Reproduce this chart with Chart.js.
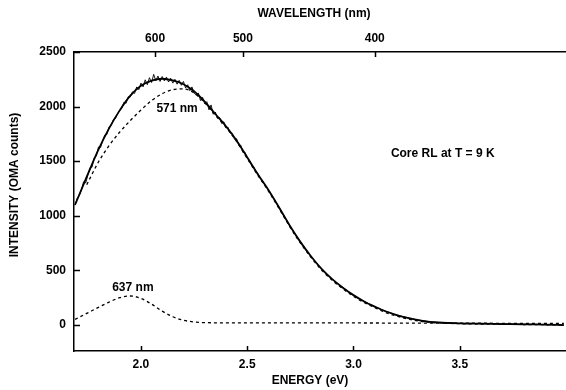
<!DOCTYPE html>
<html>
<head>
<meta charset="utf-8">
<script src="https://cdn.jsdelivr.net/npm/chart.js@4.4.1/dist/chart.umd.min.js"></script>
<style>
  html, body { margin: 0; padding: 0; background: #fff; }
  #wrap { width: 566px; height: 390px; position: relative; }
</style>
</head>
<body>
<div id="wrap"><canvas id="c"></canvas></div>
<script>
// ---- Data ----
// Measured (noisy) spectrum
const dataEnergy = [
  1.69,1.70,1.71,1.72,1.73,1.74,1.75,1.76,1.77,1.78,1.79,
  1.80,1.81,1.82,1.83,1.84,1.85,1.86,1.87,1.88,1.89,
  1.90,1.91,1.92,1.93,1.94,1.95,1.96,1.97,1.98,1.99,
  2.00,2.01,2.02,2.03,2.04,2.05,2.06,2.07,2.08,2.09,
  2.10,2.11,2.12,2.13,2.14,2.15,2.16,2.17,2.18,2.19,
  2.20,2.21,2.22,2.23,2.24,2.25,2.26,2.27,2.28,2.29,
  2.30,2.31,2.32,2.33,2.34,2.35,2.36,2.37,2.38,2.39,
  2.40,2.41,2.42,2.43,2.44,2.45,2.46,2.47,2.48,2.49,
  2.50,2.51,2.52,2.53,2.54,2.55,2.56,2.57,2.58,2.59,2.60,
  2.65,2.70,2.75,2.80,2.85,2.90,2.95,3.00,3.05,3.10,
  3.15,3.20,3.25,3.30,3.35,3.40,3.45,3.50,3.55,3.60,
  3.65,3.70,3.75,3.80,3.85,3.90,3.95,3.99
];
const dataCounts = [
  1095,1160,1185,1235,1310,1300,1370,1440,1445,1530,1545,
  1630,1625,1690,1740,1745,1815,1825,1880,1890,1935,
  1960,1985,2040,2030,2090,2088,2135,2120,2180,2155,
  2215,2180,2245,2200,2265,2220,2295,2235,2280,2230,
  2275,2235,2270,2225,2260,2215,2250,2205,2240,2195,
  2230,2170,2200,2145,2180,2125,2105,2125,2055,2085,
  2025,2045,1970,2015,1930,1950,1895,1900,1845,1860,
  1805,1810,1755,1755,1700,1705,1645,1645,1580,1580,
  1525,1512,1465,1450,1403,1388,1343,1328,1288,1270,1230,
  1078,906,764,625,515,415,343,270,216,165,
  126,90,67,44,31,21,18,12,14,9,
  10,6,7,3,5,1,2,-3
];

// Smooth total fit
const fitEnergy = [
  1.69,1.75,1.80,1.85,1.90,1.95,2.00,2.05,2.10,2.15,
  2.20,2.25,2.30,2.35,2.40,2.45,2.50,2.55,2.60,2.65,
  2.70,2.75,2.80,2.85,2.90,2.95,3.00,3.05,3.10,3.15,
  3.20,3.25,3.30,3.35,3.40,3.50,3.60,3.70,3.80,3.90,3.99
];
const fitTotal = [
  1100,1380,1605,1800,1965,2100,2190,2238,2255,2240,
  2205,2140,2045,1932,1820,1690,1535,1380,1235,1075,
  910,760,628,512,418,340,272,214,167,124,
  92,66,45,30,22,14,10,7,4,2,-2
];

// 571 nm component (dashed)
const band571Energy = [
  1.745,1.80,1.85,1.90,1.95,2.00,2.05,2.10,2.15,2.20,
  2.25,2.30,2.35,2.40,2.45,2.50,2.55,2.60,2.65,2.70,
  2.75,2.80,2.85,2.90,2.95,3.00,3.05,3.10,3.15,3.20,
  3.25,3.30,3.35,3.40,3.50,3.60,3.70,3.80,3.90,3.99
];
const band571 = [
  1284,1492,1642,1766,1872,1968,2055,2118,2155,2162,
  2125,2035,1922,1810,1680,1525,1370,1225,1065,900,
  750,618,502,408,330,262,204,157,114,82,
  56,36,24,17,10,7,5,3,1,-2
];

// 637 nm component (dashed)
const band637Energy = [
  1.69,1.75,1.80,1.85,1.90,1.95,2.00,2.05,2.10,2.15,
  2.20,2.25,2.30,2.40,2.60,2.80,3.00,3.20,3.50,3.80,3.99
];
const band637 = [
  50,110,160,208,248,264,242,190,125,74,
  42,26,20,18,18,18,17,16,15,13,12
];

// Axis ticks
const energyTicks = [2.0, 2.5, 3.0, 3.5];
const wavelengthTicks = [600, 500, 400];
const countTicks = [0, 500, 1000, 1500, 2000, 2500];

const FONT = '"Liberation Sans", Arial, Helvetica, sans-serif';

function pts(xs, ys) { return xs.map((x, i) => ({ x: x, y: ys[i] })); }

const overlay = {
  id: 'overlay',
  afterDraw(chart) {
    const ctx = chart.ctx;
    const a = chart.chartArea;
    const sx = chart.scales.x, st = chart.scales.xTop, sy = chart.scales.y;
    ctx.save();
    ctx.strokeStyle = '#000';
    ctx.lineWidth = 1.5;
    ctx.beginPath();
    energyTicks.forEach(v => {
      const p = Math.round(sx.getPixelForValue(v)) + 0.5;
      ctx.moveTo(p, a.bottom); ctx.lineTo(p, a.bottom - 5);
    });
    wavelengthTicks.forEach(nm => {
      const p = Math.round(st.getPixelForValue(1240 / nm)) + 0.5;
      ctx.moveTo(p, a.top); ctx.lineTo(p, a.top + 5);
    });
    countTicks.forEach(v => {
      const p = Math.round(sy.getPixelForValue(v)) + 0.5;
      ctx.moveTo(a.left, p); ctx.lineTo(a.left + 6, p);
    });
    ctx.stroke();

    ctx.fillStyle = '#000';
    ctx.font = 'bold 12px ' + FONT;
    ctx.textBaseline = 'middle';
    ctx.textAlign = 'center';
    ctx.fillText('571 nm', sx.getPixelForValue(2.17), sy.getPixelForValue(1977));
    ctx.fillText('637 nm', sx.getPixelForValue(1.962), sy.getPixelForValue(343));
    ctx.textAlign = 'left';
    ctx.fillText('Core RL at T = 9 K', sx.getPixelForValue(3.176), sy.getPixelForValue(1565));

    // Axis titles
    ctx.textAlign = 'center';
    ctx.fillText('WAVELENGTH (nm)', 314, 14);
    ctx.fillText('ENERGY (eV)', 310, 381);
    ctx.translate(15, 185);
    ctx.rotate(-Math.PI / 2);
    ctx.fillText('INTENSITY (OMA counts)', 0, 0);
    ctx.restore();
  }
};

const tickFont = { family: FONT, size: 12, weight: 'bold' };
const noGrid = { display: false, drawTicks: false, drawOnChartArea: false, tickLength: 0 };

new Chart(document.getElementById('c'), {
  type: 'line',
  data: {
    datasets: [
      {
        label: 'data',
        data: pts(dataEnergy, dataCounts),
        borderColor: '#000', borderWidth: 0.9,
        pointRadius: 0, tension: 0, fill: false
      },
      {
        label: 'fit',
        data: pts(fitEnergy, fitTotal),
        borderColor: '#000', borderWidth: 1.8,
        pointRadius: 0, cubicInterpolationMode: 'monotone', fill: false
      },
      {
        label: '571 nm',
        data: pts(band571Energy, band571),
        borderColor: '#000', borderWidth: 1.3, borderDash: [3, 3],
        pointRadius: 0, cubicInterpolationMode: 'monotone', fill: false
      },
      {
        label: '637 nm',
        data: pts(band637Energy, band637),
        borderColor: '#000', borderWidth: 1.3, borderDash: [3, 3],
        pointRadius: 0, cubicInterpolationMode: 'monotone', fill: false
      }
    ]
  },
  options: {
    responsive: true,
    maintainAspectRatio: false,
    animation: false,
    layout: { padding: 0 },
    plugins: { legend: { display: false }, tooltip: { enabled: false } },
    scales: {
      x: {
        type: 'linear', position: 'bottom', min: 1.685, max: 4.0,
        afterBuildTicks: s => { s.ticks = energyTicks.map(v => ({ value: v })); },
        afterFit: s => { s.height = 39; },
        ticks: { callback: v => Number(v).toFixed(1), color: '#000', font: tickFont, padding: 6, maxRotation: 0, autoSkip: false },
        grid: noGrid,
        border: { display: true, color: '#000', width: 1.5 }
      },
      xTop: {
        type: 'linear', position: 'top', min: 1.685, max: 4.0,
        afterBuildTicks: s => { s.ticks = wavelengthTicks.map(nm => ({ value: 1240 / nm })); },
        afterFit: s => { s.height = 52; },
        ticks: { callback: v => String(Math.round(1240 / v)), color: '#000', font: tickFont, padding: 6, maxRotation: 0, autoSkip: false },
        grid: noGrid,
        border: { display: true, color: '#000', width: 1.5 }
      },
      y: {
        type: 'linear', position: 'left', min: -240, max: 2500,
        afterBuildTicks: s => { s.ticks = countTicks.map(v => ({ value: v })); },
        afterFit: s => { s.width = 74; },
        ticks: { callback: v => String(v), color: '#000', font: tickFont, padding: 8, autoSkip: false },
        grid: noGrid,
        border: { display: true, color: '#000', width: 1.5 }
      }
    }
  },
  plugins: [overlay]
});
</script>
</body>
</html>
